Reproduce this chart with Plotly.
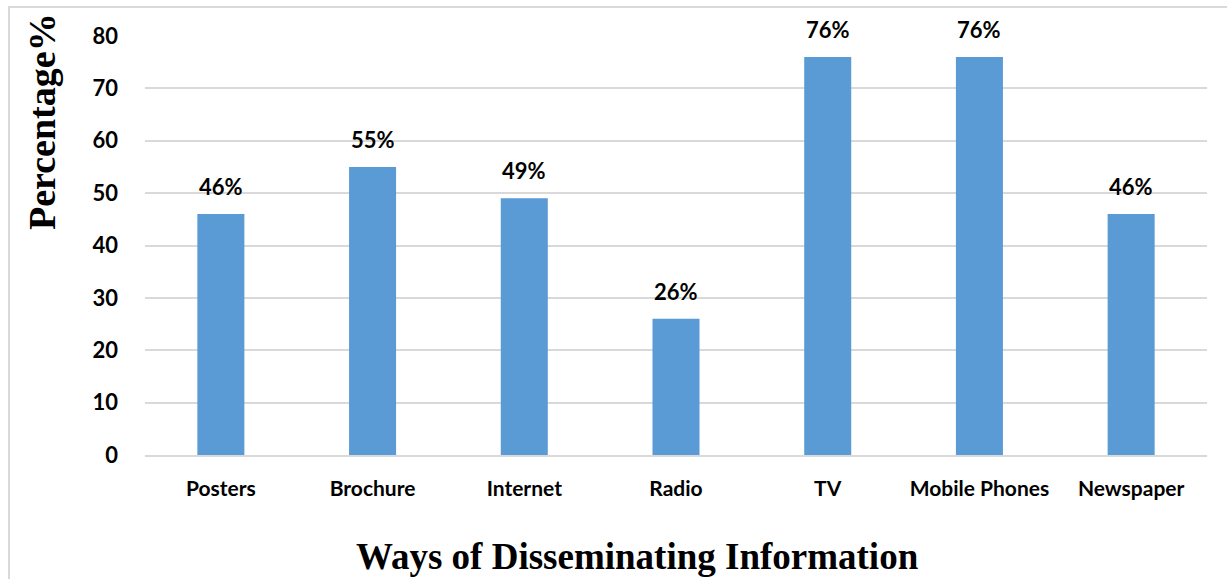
import plotly.graph_objects as go

categories = ["Posters", "Brochure", "Internet", "Radio", "TV", "Mobile Phones", "Newspaper"]
values = [46, 55, 49, 26, 76, 76, 46]
labels = ["46%", "55%", "49%", "26%", "76%", "76%", "46%"]
y_ticks = [0, 10, 20, 30, 40, 50, 60, 70, 80]

W, H = 1227, 579
L, R, T, B = 145, 20, 36, 124
pw, ph = W - L - R, H - T - B

def px(x):
    return (x - L) / pw

def py(y):
    return (H - B - y) / ph

fig = go.Figure(go.Bar(
    x=categories, y=values,
    marker=dict(color="#5B9BD5", line=dict(width=0)),
    cliponaxis=False,
))

label_annotations = [
    dict(x=c, y=v, text=t, xref="x", yref="y", showarrow=False,
         xanchor="center", yanchor="bottom", yshift=12,
         font=dict(family="Lato", size=22, color="black", weight="bold"))
    for c, v, t in zip(categories, values, labels)
]

fig.update_layout(
    width=W, height=H,
    margin=dict(l=L, r=R, t=T, b=B),
    paper_bgcolor="white", plot_bgcolor="white",
    bargap=0.69, showlegend=False,
    xaxis=dict(showgrid=False, showline=True, linecolor="#D9D9D9", linewidth=2,
               ticks="", ticklabelstandoff=14,
               tickfont=dict(family="Lato", size=21, color="black", weight="bold")),
    yaxis=dict(range=[0, 80], tickvals=y_ticks, showgrid=True, gridcolor="#D9D9D9",
               gridwidth=2, zeroline=False, showline=False, ticks="",
               ticklabelstandoff=26,
               tickfont=dict(family="Lato", size=22, color="black", weight="bold")),
    shapes=[dict(type="rect", xref="paper", yref="paper",
                 x0=px(9), x1=px(1240), y0=py(595), y1=py(7),
                 line=dict(color="#D9D9D9", width=2), fillcolor="rgba(0,0,0,0)", layer="below")],
    annotations=label_annotations + [
        dict(text="<b>Percentage%</b>", xref="paper", yref="paper",
             x=px(42), y=py(122), textangle=-90, showarrow=False,
             xanchor="center", yanchor="middle",
             font=dict(family="Liberation Serif", size=38, color="black")),
        dict(text="<b>Ways of Disseminating Information</b>", xref="paper", yref="paper",
             x=px(637), y=py(556), showarrow=False, xanchor="center", yanchor="middle",
             font=dict(family="Liberation Serif", size=37, color="black")),
    ],
)

fig.write_html("out.html")
